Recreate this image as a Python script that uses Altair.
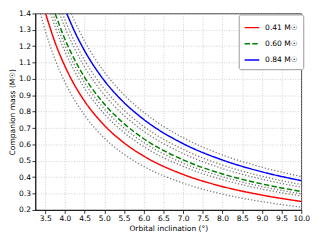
import altair as alt
import pandas as pd

# Series labels (primary mass) and colours
labels = ["0.41 M☉", "0.60 M☉", "0.84 M☉"]
colors = ["#ff0000", "#008000", "#0000ff"]

# Main curves: orbital inclination (deg) and companion mass (Msun)
red_i = [3.509, 3.75, 4.0, 4.25, 4.5, 5.0, 5.5, 6.0, 7.0, 8.0, 9.0, 10.0]
red_m = [1.4, 1.223, 1.078, 0.960, 0.864, 0.717, 0.610, 0.529, 0.417, 0.343, 0.291, 0.252]

green_i = [3.751, 4.0, 4.25, 4.5, 5.0, 5.5, 6.0, 7.0, 8.0, 9.0, 10.0]
green_m = [1.4, 1.243, 1.116, 1.010, 0.847, 0.727, 0.635, 0.506, 0.420, 0.359, 0.313]

blue_i = [4.045, 4.25, 4.5, 5.0, 5.5, 6.0, 7.0, 8.0, 9.0, 10.0]
blue_m = [1.4, 1.288, 1.172, 0.990, 0.856, 0.753, 0.605, 0.505, 0.433, 0.379]

# Dotted uncertainty curves
red_lo_i = [3.378, 3.5, 3.75, 4.0, 4.25, 4.5, 5.0, 5.5, 6.0, 7.0, 8.0, 9.0, 10.0]
red_lo_m = [1.4, 1.296, 1.119, 0.980, 0.869, 0.778, 0.639, 0.540, 0.466, 0.364, 0.297, 0.251, 0.217]
red_hi_i = [3.637, 3.75, 4.0, 4.25, 4.5, 5.0, 5.5, 6.0, 7.0, 8.0, 9.0, 10.0]
red_hi_m = [1.4, 1.319, 1.168, 1.045, 0.943, 0.787, 0.673, 0.587, 0.466, 0.385, 0.328, 0.285]

green_lo_i = [3.694, 3.75, 4.0, 4.25, 4.5, 5.0, 5.5, 6.0, 7.0, 8.0, 9.0, 10.0]
green_lo_m = [1.4, 1.361, 1.206, 1.081, 0.977, 0.817, 0.700, 0.612, 0.486, 0.403, 0.343, 0.299]
green_hi_i = [3.862, 4.0, 4.25, 4.5, 5.0, 5.5, 6.0, 7.0, 8.0, 9.0, 10.0]
green_hi_m = [1.4, 1.315, 1.183, 1.073, 0.903, 0.777, 0.681, 0.545, 0.453, 0.388, 0.339]

blue_lo_i = [3.936, 4.0, 4.25, 4.5, 5.0, 5.5, 6.0, 7.0, 8.0, 9.0, 10.0]
blue_lo_m = [1.4, 1.361, 1.226, 1.113, 0.939, 0.809, 0.710, 0.570, 0.474, 0.406, 0.355]
blue_hi_i = [4.159, 4.25, 4.5, 5.0, 5.5, 6.0, 7.0, 8.0, 9.0, 10.0]
blue_hi_m = [1.4, 1.351, 1.231, 1.043, 0.903, 0.796, 0.641, 0.536, 0.461, 0.404]

# Axis ticks
x_ticks = [3.5, 4.0, 4.5, 5.0, 5.5, 6.0, 6.5, 7.0, 7.5, 8.0, 8.5, 9.0, 9.5, 10.0]
y_ticks = [0.2, 0.3, 0.4, 0.5, 0.6, 0.7, 0.8, 0.9, 1.0, 1.1, 1.2, 1.3, 1.4]

main_rows = []
for lab, xs, ys in zip(labels, [red_i, green_i, blue_i], [red_m, green_m, blue_m]):
    for a, b in zip(xs, ys):
        main_rows.append({"series": lab, "incl": a, "mass": b})
main_df = pd.DataFrame(main_rows)

dot_rows = []
dot_sets = [("r_lo", red_lo_i, red_lo_m), ("r_hi", red_hi_i, red_hi_m),
            ("g_lo", green_lo_i, green_lo_m), ("g_hi", green_hi_i, green_hi_m),
            ("b_lo", blue_lo_i, blue_lo_m), ("b_hi", blue_hi_i, blue_hi_m)]
for g, xs, ys in dot_sets:
    for a, b in zip(xs, ys):
        dot_rows.append({"grp": g, "incl": a, "mass": b})
dot_df = pd.DataFrame(dot_rows)

FONT = "DejaVu Sans"
FS = 7.7

x_enc = alt.X("incl:Q", scale=alt.Scale(domain=[3.25, 10.0], nice=False, zero=False),
              axis=alt.Axis(values=x_ticks, format=".1f", title="Orbital inclination (°)"))
y_enc = alt.Y("mass:Q", scale=alt.Scale(domain=[0.2, 1.4], nice=False, zero=False),
              axis=alt.Axis(values=y_ticks, format=".1f", title="Companion mass (M☉)"))

dots = alt.Chart(dot_df).mark_line(
    color="#7a7a7a", strokeWidth=1.3, strokeDash=[1.3, 2.0], interpolate="monotone", clip=True
).encode(x=x_enc, y=y_enc, detail="grp:N")

main = alt.Chart(main_df).mark_line(strokeWidth=1.5, interpolate="monotone", clip=True).encode(
    x=x_enc,
    y=y_enc,
    color=alt.Color("series:N", scale=alt.Scale(domain=labels, range=colors),
                    legend=alt.Legend(title=None, orient="none", legendX=208, legendY=1)),
    strokeDash=alt.StrokeDash("series:N", scale=alt.Scale(domain=labels, range=[[1, 0], [5.5, 2.4], [1, 0]]),
                              legend=alt.Legend(title=None, orient="none", legendX=208, legendY=1)),
)

chart = alt.layer(dots, main).properties(
    width=272, height=201,
    autosize=alt.AutoSizeParams(type="none"),
    padding={"left": 28, "top": 3, "right": 13, "bottom": 22},
).configure_view(
    stroke="black", strokeWidth=0.8
).configure_axis(
    labelFont=FONT, titleFont=FONT, labelFontSize=FS, titleFontSize=FS,
    titleFontWeight="normal", labelColor="black", titleColor="black",
    domainColor="black", domainWidth=0.8, tickColor="black", tickWidth=0.8, tickSize=3.5,
    labelPadding=1.5, gridColor="#c4c4c4", gridDash=[1, 1.6], gridWidth=0.8,
    labelFlush=False, labelOverlap=False
).configure_axisX(
    titlePadding=2
).configure_axisY(
    titlePadding=2
).configure_legend(
    labelFont=FONT, labelFontSize=FS, labelColor="black",
    symbolType="stroke", symbolSize=225, symbolStrokeWidth=1.5,
    strokeColor="#999999", fillColor="white", cornerRadius=2, padding=5,
    rowPadding=3.5, labelOffset=5
)

chart.save("out.html", embed_options={"renderer": "svg", "actions": False})
